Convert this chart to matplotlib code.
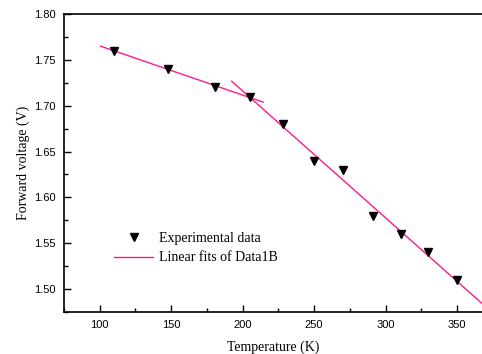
import numpy as np
import matplotlib.pyplot as plt
from matplotlib.ticker import MultipleLocator

temperature = [110, 148, 181, 205, 228, 250, 270, 291, 311, 330, 350]
voltage = [1.76, 1.74, 1.72, 1.71, 1.68, 1.64, 1.63, 1.58, 1.56, 1.54, 1.51]

# two linear fits: low-T part and high-T part (205 K shared)
low_idx = slice(0, 4)
high_idx = slice(3, 11)
low_range = [100.7, 214.4]
high_range = [192.4, 400]

pink = "#FF1A8C"

t = np.array(temperature)
v = np.array(voltage)
p1 = np.polyfit(t[low_idx], v[low_idx], 1)
p2 = np.polyfit(t[high_idx], v[high_idx], 1)

fig = plt.figure(figsize=(4.82, 3.54), dpi=100)
ax = fig.add_axes([64 / 482, 42 / 354, 418 / 482, 298 / 354])

ax.plot(t, v, "v", color="black", ms=6, label="Experimental data", zorder=3)
x1 = np.array(low_range)
x2 = np.array(high_range)
ax.plot(x1, np.polyval(p1, x1), color=pink, lw=1, label="Linear fits of Data1B")
ax.plot(x2, np.polyval(p2, x2), color=pink, lw=1)

ax.set_xlim(75, 367.5)
ax.set_ylim(1.475, 1.80)
ax.xaxis.set_major_locator(MultipleLocator(50))
ax.xaxis.set_minor_locator(MultipleLocator(25))
ax.yaxis.set_major_locator(MultipleLocator(0.05))
ax.yaxis.set_minor_locator(MultipleLocator(0.025))
ax.yaxis.set_major_formatter(plt.FormatStrFormatter("%.2f"))
ax.tick_params(which="both", direction="in", labelsize=8, width=1)
ax.tick_params(which="major", length=5, pad=6)
ax.tick_params(which="minor", length=3)
for lab in ax.get_xticklabels() + ax.get_yticklabels():
    lab.set_fontfamily("Liberation Sans")

ax.spines["right"].set_visible(False)
for s in ["left", "top", "bottom"]:
    ax.spines[s].set_linewidth(1.2)

ax.set_xlabel("Temperature (K)", fontfamily="Liberation Serif", fontsize=10, labelpad=7)
ax.set_ylabel("Forward voltage (V)", fontfamily="Liberation Serif", fontsize=10, labelpad=3)

ax.legend(loc="upper left", bbox_to_anchor=(0.12, 0.27), frameon=False,
          borderpad=0, borderaxespad=0, handlelength=2.8, handletextpad=0.4,
          labelspacing=0.5, prop={"family": "Liberation Serif", "size": 10})

fig.savefig("out.png", dpi=100)
